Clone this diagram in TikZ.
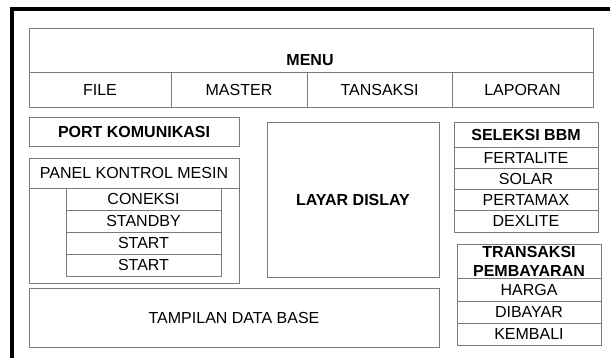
\documentclass[tikz,border=0pt]{standalone}
\usepackage{fontspec}
\setmainfont{Liberation Sans}
\definecolor{linegray}{HTML}{7A7A7A}
\tikzset{
  cellbox/.style={draw=linegray, line width=1pt, rectangle, inner sep=0pt, outer sep=0pt, align=center},
  boldtxt/.style={font=\fontsize{16}{19}\selectfont\bfseries},
  frameline/.style={draw=black, line width=4pt, line join=miter}
}
\newcommand\uicell[7]{\node[cellbox,#6,anchor=north west,minimum width=#3pt-#1pt,minimum height=#4pt-#2pt] (#5) at (#1,#2) {#7};}
\begin{document}
\begin{tikzpicture}[x=1pt,y=-1pt,font=\fontsize{16}{19}\selectfont]
\useasboundingbox (0,0) rectangle (610,357);
\clip (0,0) rectangle (610,357);
\fill[white] (0,0) rectangle (610,357);
% outer window frame
\coordinate (frameA) at (12,380);
\coordinate (frameB) at (12,9);
\coordinate (frameC) at (630,9);
\draw[frameline] (frameA) -- (frameB) -- (frameC);
% menu
\uicell{29}{28}{593}{72}{menu}{}{}
\node[boldtxt] (menutxt) at (310,60) {MENU};
\uicell{29}{72}{171}{107}{file}{}{FILE}
\uicell{171}{72}{307}{107}{master}{}{MASTER}
\uicell{307}{72}{452}{107}{tansaksi}{}{TANSAKSI}
\uicell{452}{72}{593}{107}{laporan}{}{LAPORAN}
% port
\uicell{29}{117}{239}{146}{port}{boldtxt}{PORT KOMUNIKASI}
% panel
\uicell{29}{158}{239}{283}{panel}{}{}
\uicell{29}{158}{239}{188}{panelhead}{}{PANEL KONTROL MESIN}
\uicell{66}{188}{221}{210}{coneksi}{}{CONEKSI}
\uicell{66}{210}{221}{232}{standby}{}{STANDBY}
\uicell{66}{232}{221}{254}{startA}{}{START}
\uicell{66}{254}{221}{276}{startB}{}{START}
% layar
\uicell{267}{122}{439}{277}{layar}{boldtxt}{LAYAR DISLAY}
% tampilan
\uicell{29}{288}{439}{347}{tampilan}{}{TAMPILAN DATA BASE}
% seleksi
\uicell{454}{122}{598}{147}{seleksi}{boldtxt}{SELEKSI BBM}
\uicell{454}{147}{598}{168}{fertalite}{}{FERTALITE}
\uicell{454}{168}{598}{189}{solar}{}{SOLAR}
\uicell{454}{189}{598}{210}{pertamax}{}{PERTAMAX}
\uicell{454}{210}{598}{232}{dexlite}{}{DEXLITE}
% transaksi
\uicell{457}{244}{601}{278}{transaksi}{}{}
\node[boldtxt, align=center, inner sep=0pt] (transtxt) at (529,261) {TRANSAKSI\\PEMBAYARAN};
\uicell{457}{278}{601}{301}{harga}{}{HARGA}
\uicell{457}{301}{601}{323}{dibayar}{}{DIBAYAR}
\uicell{457}{323}{601}{345}{kembali}{}{KEMBALI}
\end{tikzpicture}
\end{document}
